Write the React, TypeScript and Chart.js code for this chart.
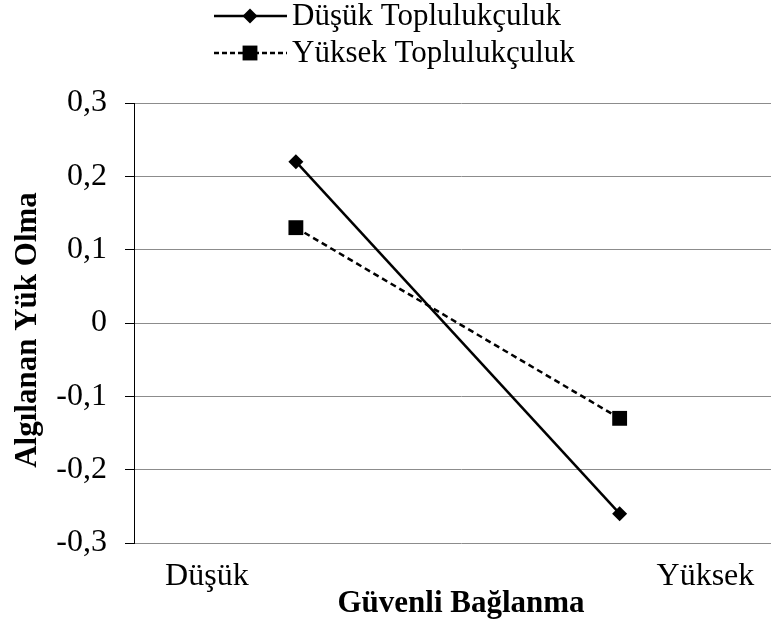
import React, { useEffect, useRef } from 'react';
import { Chart, registerables } from 'chart.js';

Chart.register(...registerables);

// ---- data ----
const levels = ['Düşük', 'Yüksek'];
const seriesNames = ['Düşük Toplulukçuluk', 'Yüksek Toplulukçuluk'];
const lowCollectivism = [0.22, -0.26];
const highCollectivism = [0.13, -0.13];
const yTickValues = [-0.3, -0.2, -0.1, 0, 0.1, 0.2, 0.3];
const xTitle = 'Güvenli Bağlanma';
const yTitle = 'Algılanan Yük Olma';

// x positions on the linear axis
const pointX = [-1, 1];
const labelX = [-1.55, 1.53];

const FONT = "'Liberation Serif', 'Times New Roman', serif";

function drawMarker(ctx: CanvasRenderingContext2D, style: string, x: number, y: number, r: number) {
  ctx.beginPath();
  if (style === 'rectRot') {
    ctx.moveTo(x, y - r);
    ctx.lineTo(x + r, y);
    ctx.lineTo(x, y + r);
    ctx.lineTo(x - r, y);
    ctx.closePath();
  } else {
    const s = r * Math.SQRT1_2;
    ctx.rect(x - s, y - s, 2 * s, 2 * s);
  }
  ctx.fill();
}

const legendPlugin = {
  id: 'customLegend',
  afterDraw(chart: any) {
    const ctx: CanvasRenderingContext2D = chart.ctx;
    ctx.save();
    const rowsY = [16, 53];
    const dashes = [[], [5, 3]];
    chart.data.datasets.forEach((ds: any, i: number) => {
      const y = rowsY[i];
      ctx.strokeStyle = '#000';
      ctx.fillStyle = '#000';
      ctx.lineWidth = 2.5;
      ctx.setLineDash(dashes[i]);
      ctx.beginPath();
      ctx.moveTo(214, y);
      ctx.lineTo(287, y);
      ctx.stroke();
      ctx.setLineDash([]);
      drawMarker(ctx, ds.pointStyle, 250, y, ds.pointRadius);
      ctx.font = `31px ${FONT}`;
      ctx.textBaseline = 'middle';
      ctx.textAlign = 'left';
      ctx.fillText(ds.label, 292, y + 1);
    });
    // y axis title
    const area = chart.chartArea;
    ctx.translate(28, (area.top + area.bottom) / 2 + 7);
    ctx.rotate(-Math.PI / 2);
    ctx.fillStyle = '#000';
    ctx.font = `bold 31px ${FONT}`;
    ctx.textAlign = 'center';
    ctx.textBaseline = 'middle';
    ctx.fillText(yTitle, 0, 0);
    ctx.restore();
  },
};

export default function App() {
  const ref = useRef<HTMLCanvasElement | null>(null);

  useEffect(() => {
    document.body.style.margin = '0';
    const canvas = ref.current;
    if (!canvas) return;
    const chart = new Chart(canvas, {
      type: 'scatter',
      data: {
        datasets: [
          {
            label: seriesNames[0],
            data: lowCollectivism.map((v, i) => ({ x: pointX[i], y: v })),
            showLine: true,
            borderColor: '#000',
            backgroundColor: '#000',
            borderWidth: 2.5,
            pointStyle: 'rectRot',
            pointRadius: 7.5,
            pointBorderWidth: 0,
          },
          {
            label: seriesNames[1],
            data: highCollectivism.map((v, i) => ({ x: pointX[i], y: v })),
            showLine: true,
            borderColor: '#000',
            backgroundColor: '#000',
            borderWidth: 2.5,
            borderDash: [6, 4],
            pointStyle: 'rect',
            pointRadius: 10.5,
            pointBorderWidth: 0,
          },
        ],
      },
      options: {
        animation: false,
        responsive: false,
        layout: { autoPadding: false, padding: { top: 103, left: 0, right: 0, bottom: 0 } },
        plugins: {
          legend: { display: false },
          tooltip: { enabled: false },
        },
        scales: {
          x: {
            type: 'linear',
            min: -2,
            max: 2.04,
            grid: { display: false },
            border: { display: false },
            afterBuildTicks: (s: any) => {
              s.ticks = labelX.map((v) => ({ value: v }));
            },
            afterFit: (s: any) => {
              s.height = 83;
              s.paddingLeft = 0;
              s.paddingRight = 0;
            },
            ticks: {
              autoSkip: false,
              maxRotation: 0,
              padding: 6,
              color: '#000',
              font: { family: FONT, size: 32 },
              callback: (_v: any, i: number) => levels[i],
            },
            title: {
              display: true,
              text: xTitle,
              color: '#000',
              font: { family: FONT, size: 31, weight: 'bold' },
              padding: { top: 0, bottom: 3 },
            },
          },
          y: {
            min: -0.3,
            max: 0.3,
            afterBuildTicks: (s: any) => {
              s.ticks = yTickValues.map((v) => ({ value: v }));
            },
            afterFit: (s: any) => {
              s.width = 134;
            },
            grid: {
              color: '#8c8c8c',
              lineWidth: 1,
              tickColor: '#000',
              tickLength: 9,
            },
            border: { display: true, color: '#000', width: 1 },
            ticks: {
              padding: 18,
              color: '#000',
              font: { family: FONT, size: 32 },
              callback: (v: any) => {
                const r = Math.round(Number(v) * 10) / 10;
                return r === 0 ? '0' : r.toFixed(1).replace('.', ',');
              },
            },
            title: { display: false },
          },
        },
      },
      plugins: [legendPlugin],
    } as any);
    return () => chart.destroy();
  }, []);

  return (
    <div style={{ width: 771, height: 626, position: 'relative', overflow: 'hidden', background: '#fff' }}>
      <canvas ref={ref} width={788} height={626} style={{ display: 'block' }} />
    </div>
  );
}
